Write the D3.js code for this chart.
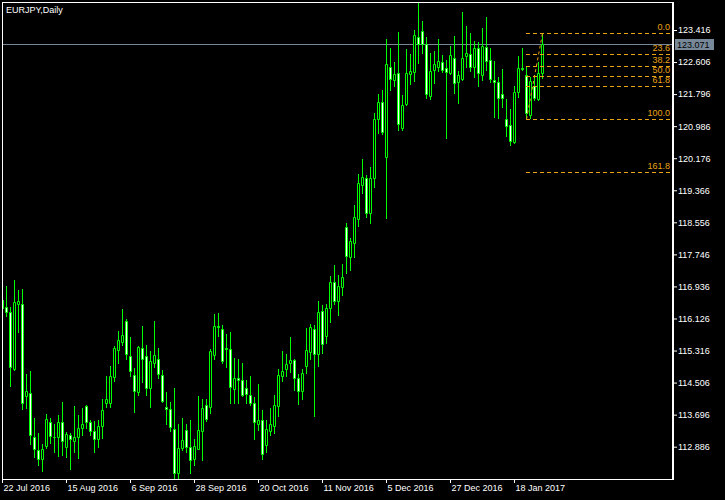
<!DOCTYPE html>
<html><head><meta charset="utf-8">
<script src="https://cdn.jsdelivr.net/npm/d3@7"></script>
<style>html,body{margin:0;padding:0;background:#000;}svg{display:block;}</style>
</head><body>
<svg id="c" width="725" height="500"></svg>
<script>
const title = "EURJPY,Daily";
const open  = [116.60,116.42,116.28,114.85,116.50,116.48,114.17,114.25,113.12,112.81,112.58,112.91,113.51,113.14,113.12,113.50,112.88,113.19,113.03,113.12,113.37,113.91,113.51,113.28,113.09,113.40,114.00,113.98,114.65,115.34,115.54,116.06,115.19,114.71,114.27,115.37,115.17,114.38,115.01,115.11,114.71,113.89,113.85,113.34,112.21,112.85,113.32,112.88,112.57,112.84,113.29,113.93,113.89,115.21,115.93,115.87,115.39,115.35,114.35,114.63,114.58,114.37,114.20,114.00,113.47,113.57,112.94,113.29,113.41,113.92,114.67,114.84,114.99,115.07,114.63,114.30,114.93,115.28,115.87,115.24,116.32,115.69,116.38,117.04,116.57,116.93,118.43,117.68,118.04,118.65,119.49,119.67,118.78,119.67,121.16,121.59,120.21,122.49,122.15,122.32,120.95,121.54,122.30,122.36,123.23,123.39,123.05,121.76,122.40,122.49,122.60,122.45,122.34,122.72,122.11,122.19,122.77,122.81,122.49,122.95,122.28,122.98,122.66,122.15,122.11,121.81,121.16,121.01,120.59,121.84,122.45,122.28,121.27,122.00,121.66,122.32];
const high  = [116.80,116.94,116.42,117.11,116.84,116.87,114.72,114.79,113.61,113.24,112.95,113.72,113.61,113.45,113.68,114.01,113.27,113.24,113.91,113.68,113.86,113.93,113.55,113.54,113.55,114.10,114.67,114.92,115.43,115.80,116.36,116.12,115.66,114.88,115.43,115.93,115.45,115.30,116.06,115.39,114.82,114.27,114.02,114.37,113.47,113.61,113.47,113.55,113.07,114.16,114.10,114.10,115.35,116.23,116.27,115.96,115.73,115.79,115.14,115.11,115.01,114.57,114.67,114.14,114.48,113.82,113.55,113.87,114.19,114.84,115.30,115.24,115.66,115.10,114.73,114.84,115.89,115.98,115.96,116.56,116.46,116.49,117.20,117.47,117.22,117.50,118.53,118.17,118.99,119.77,120.15,119.75,119.96,121.31,121.80,121.90,123.20,122.95,122.60,123.36,121.77,122.94,122.81,123.42,124.09,123.64,123.23,122.83,122.89,123.20,122.78,122.67,123.01,123.26,122.38,123.86,123.52,123.35,123.15,123.12,123.46,123.74,122.95,122.63,122.22,122.43,121.67,121.42,122.00,122.76,122.95,122.49,122.24,122.28,122.61,123.33];
const low   = [116.30,116.19,114.42,114.83,115.79,113.85,113.87,112.96,112.63,112.42,112.27,112.86,112.99,112.75,112.65,112.67,112.63,112.32,112.75,112.60,113.19,113.35,113.17,112.75,112.88,113.11,113.89,113.89,114.54,114.99,115.45,115.09,114.67,113.76,114.19,114.52,114.19,113.89,114.90,114.61,114.02,113.45,113.28,112.05,112.04,112.80,112.75,112.21,112.42,112.82,112.54,113.54,113.74,115.09,115.68,115.00,114.90,113.98,113.99,113.99,114.16,113.98,113.95,113.09,113.32,112.57,112.75,113.17,113.22,113.66,114.54,114.67,114.78,114.31,113.96,114.09,114.76,115.09,113.66,114.93,115.26,115.51,116.04,116.50,116.21,116.71,117.28,117.35,117.68,118.46,119.29,118.68,118.53,119.44,120.82,120.80,118.67,121.91,122.00,120.89,120.89,121.52,122.05,122.13,122.57,122.83,121.69,121.66,122.07,122.38,122.36,120.69,122.30,121.83,121.58,122.15,122.49,122.39,122.24,122.00,122.15,122.40,122.11,121.22,121.18,121.48,120.74,120.51,120.55,121.73,122.40,121.16,121.18,121.65,121.65,122.21];
const close = [116.38,116.29,114.90,116.53,116.56,114.00,114.29,113.17,112.84,112.58,112.84,113.58,113.16,113.12,113.50,113.03,113.20,113.09,113.12,113.37,113.45,113.51,113.28,113.09,113.40,113.82,114.10,114.68,115.37,115.58,115.70,115.24,114.80,114.30,115.41,115.09,114.38,115.05,115.21,114.73,114.04,113.85,113.39,112.23,112.86,113.05,112.88,112.56,112.90,113.30,113.87,113.58,115.30,115.93,115.90,115.05,115.36,114.40,114.63,114.58,114.20,114.23,113.99,113.50,113.57,112.69,113.34,113.45,113.93,114.69,114.79,114.97,115.07,114.62,114.30,114.76,115.32,115.91,115.24,116.29,115.48,116.38,117.04,116.57,116.94,117.18,117.71,118.09,118.68,119.54,119.71,118.78,119.67,121.16,121.59,120.83,122.55,122.17,122.30,121.03,121.52,122.32,122.38,123.29,123.05,123.05,121.79,122.39,122.55,122.63,122.40,122.36,122.78,122.07,122.28,122.70,122.83,122.49,122.95,122.34,123.01,122.64,122.17,122.11,121.71,121.71,121.00,120.62,121.84,122.45,122.43,121.31,122.13,121.71,122.32,123.07];

const dateTickBars   = [0, 16, 32, 48, 64, 80, 96, 112, 128];
const dateTickLabels = ["22 Jul 2016","15 Aug 2016","6 Sep 2016","28 Sep 2016","20 Oct 2016","11 Nov 2016","5 Dec 2016","27 Dec 2016","18 Jan 2017"];
const priceTicks = [123.416,122.606,121.796,120.986,120.176,119.366,118.556,117.746,116.936,116.126,115.316,114.506,113.696,112.886];
const bidPrice = 123.071;
const fibLevels = [0.0, 23.6, 38.2, 50.0, 61.8, 100.0, 161.8];
const fibHigh = 123.33, fibLow = 121.16, fibHighBar = 135, fibLowBar = 131;

const GREEN = "#00ff00", FIB = "#e8a317", GREY = "#778899";
const FONT = "'Liberation Sans', Arial, sans-serif";
const L = 2, T = 2, R = 672, B = 479;

const svg = d3.select("#c");
svg.append("rect").attr("width",725).attr("height",500).attr("fill","#000");

const x = d3.scaleLinear().domain([0, 135]).range([2, 542]);
const y = d3.scaleLinear().domain([112.886, 123.416]).range([446.7, 30]);

svg.append("defs").append("clipPath").attr("id","pc")
  .append("rect").attr("x",L+1).attr("y",T+1).attr("width",R-L-1).attr("height",B-T-1);

const plot = svg.append("g").attr("clip-path","url(#pc)");

// bid line
plot.append("line").attr("x1",L).attr("x2",R).attr("y1",Math.round(y(bidPrice))+0.5).attr("y2",Math.round(y(bidPrice))+0.5)
  .attr("stroke",GREY).attr("stroke-width",1);

const idx = d3.range(open.length);
// wicks
plot.selectAll("line.wick").data(idx).join("line").attr("class","wick")
  .attr("x1",i=>x(i)+0.5).attr("x2",i=>x(i)+0.5)
  .attr("y1",i=>Math.round(y(high[i]))).attr("y2",i=>Math.round(y(low[i]))+1)
  .attr("stroke",GREEN).attr("stroke-width",1);
// bodies
plot.selectAll("path.body").data(idx).join("path").attr("class","body")
  .attr("d",i=>{
    const t = Math.round(y(Math.max(open[i],close[i])))+0.5;
    const b = Math.round(y(Math.min(open[i],close[i])))+0.5;
    const x0 = x(i)-0.5, x1 = x(i)+1.5;
    return `M${x0},${t}H${x1}V${b}H${x0}Z`;
  })
  .attr("fill",i=>close[i] < open[i] ? "#fff" : "#000")
  .attr("stroke",GREEN).attr("stroke-width",1);

// Fibonacci
const fibPrice = r => fibHigh - (fibHigh - fibLow) * r / 100;
const fg = plot.append("g");
fg.selectAll("line").data(fibLevels).join("line")
  .attr("x1",x(fibLowBar)).attr("x2",R)
  .attr("y1",r=>Math.round(y(fibPrice(r)))+0.5).attr("y2",r=>Math.round(y(fibPrice(r)))+0.5)
  .attr("stroke",FIB).attr("stroke-width",1).attr("stroke-dasharray","4,3");
fg.selectAll("text").data(fibLevels).join("text")
  .attr("x",R-2).attr("y",r=>Math.round(y(fibPrice(r)))-3)
  .attr("text-anchor","end").attr("fill",FIB)
  .attr("font-family",FONT).attr("font-size","9px")
  .text(r=>r.toFixed(1));
fg.append("line")
  .attr("x1",x(fibLowBar)+0.5).attr("y1",y(fibLow))
  .attr("x2",x(fibHighBar)+0.5).attr("y2",y(fibHigh))
  .attr("stroke",FIB).attr("stroke-width",1).attr("stroke-dasharray","3,3");

// frame
svg.append("rect").attr("x",L+0.5).attr("y",T+0.5).attr("width",R-L).attr("height",B-T)
  .attr("fill","none").attr("stroke","#fff").attr("stroke-width",1);
svg.append("line").attr("x1",R+1.5).attr("x2",R+1.5).attr("y1",T).attr("y2",B+1)
  .attr("stroke","#fff").attr("stroke-width",1);

// y axis
const ya = svg.append("g").attr("transform",`translate(${R+2},0)`)
  .call(d3.axisRight(y).tickValues(priceTicks).tickFormat(d=>d.toFixed(3)).tickSize(3).tickPadding(1));
ya.select(".domain").remove();
ya.selectAll("line").attr("stroke","#fff");
ya.selectAll("text").attr("fill","#fff").attr("font-family",FONT).attr("font-size","9px");

// bid label
const by = Math.round(y(bidPrice));
svg.append("rect").attr("x",675).attr("y",by-5).attr("width",39).attr("height",11).attr("fill",GREY);
svg.append("text").attr("x",677).attr("y",by+3.5).attr("fill","#000")
  .attr("font-family",FONT).attr("font-size","9px").text(bidPrice.toFixed(3));

// x axis
const xa = svg.append("g").attr("transform",`translate(0,${B})`)
  .call(d3.axisBottom(x).tickValues(dateTickBars).tickFormat((d,i)=>dateTickLabels[i]).tickSize(4).tickPadding(2));
xa.select(".domain").remove();
xa.selectAll("line").attr("stroke","#fff");
xa.selectAll("text").attr("fill","#fff").attr("font-family",FONT).attr("font-size","9px")
  .attr("text-anchor","start").attr("x",1);

// title
svg.append("text").attr("x",6).attr("y",12.5).attr("fill","#fff")
  .attr("font-family",FONT).attr("font-size","9px").text(title);
</script>
</body></html>
